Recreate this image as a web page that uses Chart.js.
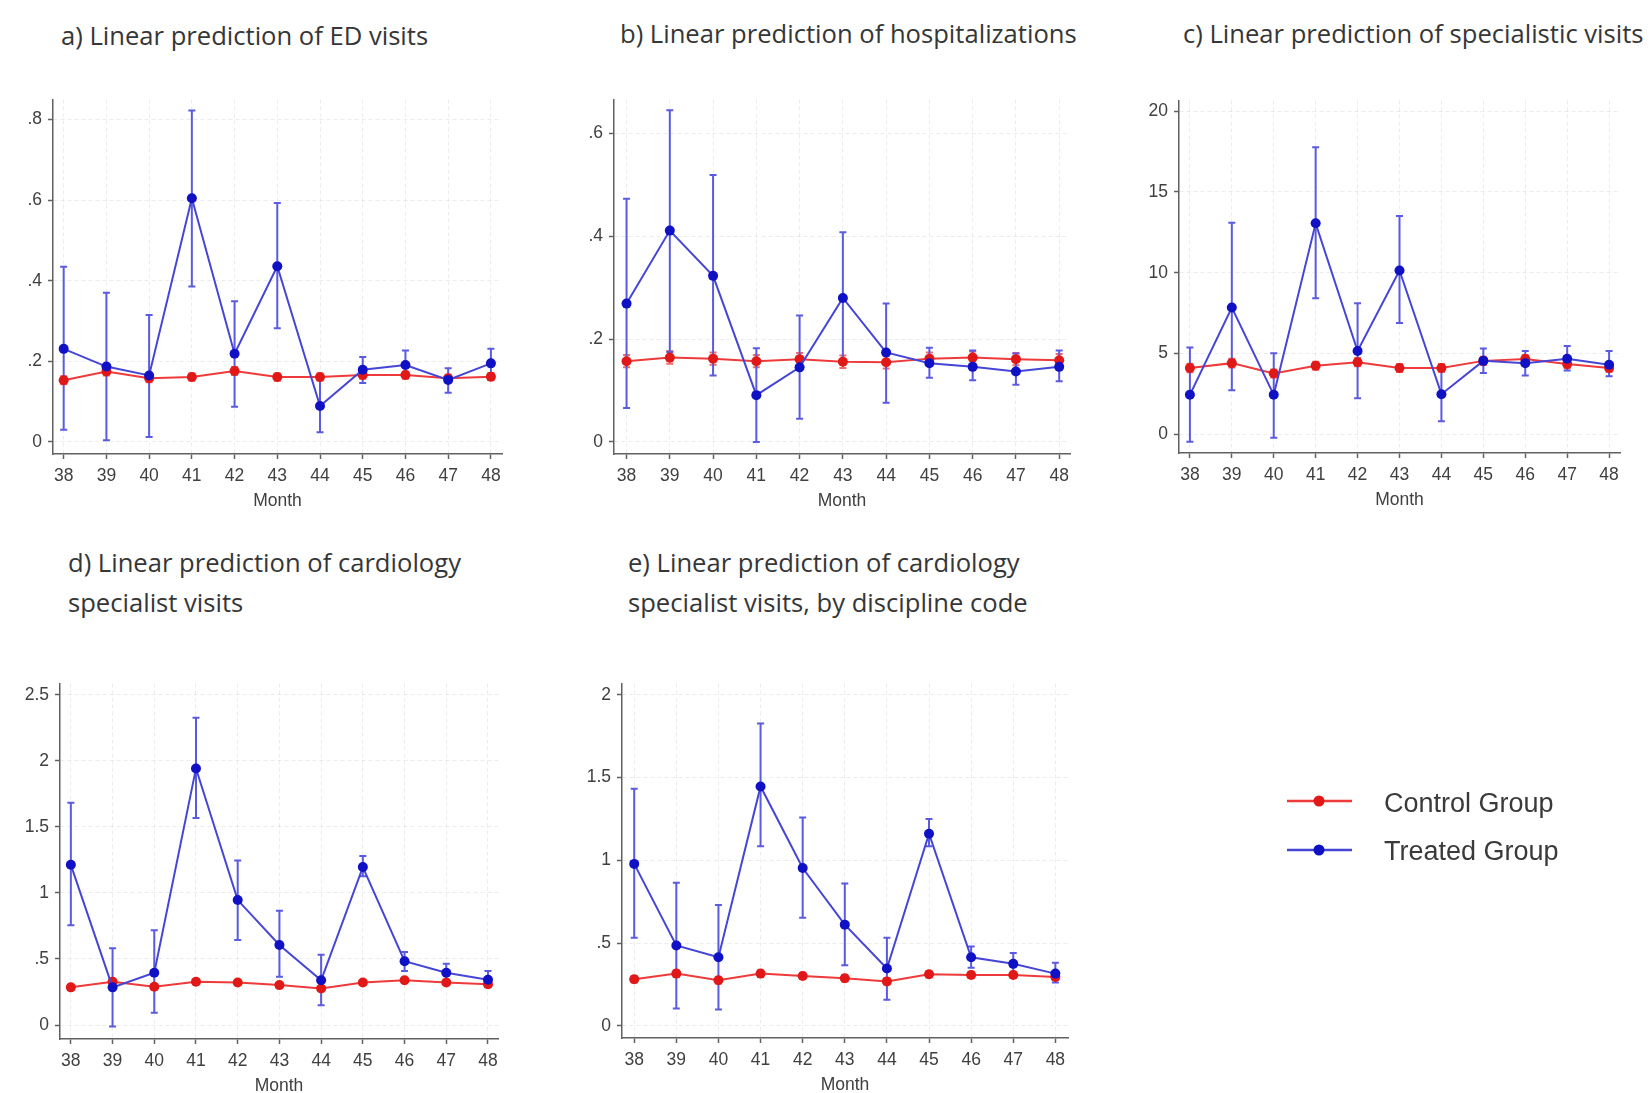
<!DOCTYPE html>
<html>
<head>
<meta charset="utf-8">
<script src="https://cdn.jsdelivr.net/npm/chart.js@4.4.1/dist/chart.umd.min.js"></script>
<style>
  html, body { margin:0; padding:0; background:#ffffff; }
  body { position:relative; width:1652px; height:1093px; overflow:hidden; }
  canvas { position:absolute; }
  .txt { position:absolute; white-space:nowrap; margin:0; padding:0; }
  .title { font-family: "Open Sans", Lato, sans-serif; color:#363636; font-size:25.6px; }
  .leg { font-family: "Liberation Sans", Arial, sans-serif; color:#3a3a3a; font-size:27px; }
  svg { position:absolute; left:0; top:0; }
</style>
</head>
<body>
<script>
// ---------------- DATA ----------------
const months = [38, 39, 40, 41, 42, 43, 44, 45, 46, 47, 48];
const monthLabels = ['38', '39', '40', '41', '42', '43', '44', '45', '46', '47', '48'];
const seriesNames = ['Control Group', 'Treated Group'];

// a) ED visits
const edTreated   = [0.231, 0.187, 0.165, 0.605, 0.219, 0.436, 0.089, 0.179, 0.191, 0.154, 0.195];
const edTreatedLo = [0.030, 0.004, 0.012, 0.386, 0.087, 0.282, 0.024, 0.146, 0.162, 0.122, 0.166];
const edTreatedHi = [0.435, 0.370, 0.315, 0.823, 0.349, 0.593, 0.155, 0.211, 0.227, 0.183, 0.231];
const edControl   = [0.153, 0.175, 0.158, 0.161, 0.176, 0.161, 0.161, 0.166, 0.166, 0.158, 0.162];
const edControlLo = [0.143, 0.165, 0.148, 0.152, 0.166, 0.152, 0.152, 0.157, 0.157, 0.149, 0.153];
const edControlHi = [0.163, 0.185, 0.168, 0.170, 0.186, 0.170, 0.170, 0.175, 0.175, 0.167, 0.171];
const edYTicks  = [0, 0.2, 0.4, 0.6, 0.8];
const edYLabels = ['0', '.2', '.4', '.6', '.8'];

// b) hospitalizations
const hospTreated   = [0.269, 0.411, 0.323, 0.091, 0.145, 0.280, 0.174, 0.153, 0.146, 0.137, 0.146];
const hospTreatedLo = [0.066, 0.175, 0.129, 0.000, 0.045, 0.159, 0.076, 0.125, 0.120, 0.111, 0.118];
const hospTreatedHi = [0.473, 0.645, 0.519, 0.182, 0.246, 0.408, 0.269, 0.183, 0.178, 0.172, 0.178];
const hospControl   = [0.157, 0.164, 0.162, 0.157, 0.161, 0.156, 0.155, 0.162, 0.164, 0.161, 0.159];
const hospControlLo = [0.145, 0.152, 0.150, 0.145, 0.149, 0.144, 0.143, 0.150, 0.152, 0.149, 0.147];
const hospControlHi = [0.169, 0.177, 0.174, 0.169, 0.173, 0.168, 0.167, 0.174, 0.176, 0.173, 0.171];
const hospYTicks  = [0, 0.2, 0.4, 0.6];
const hospYLabels = ['0', '.2', '.4', '.6'];

// c) specialistic visits
const specTreated   = [2.45, 7.85, 2.45, 13.06, 5.16, 10.14, 2.49, 4.55, 4.41, 4.68, 4.31];
const specTreatedLo = [-0.45, 2.73, -0.20, 8.42, 2.23, 6.90, 0.81, 3.80, 3.64, 3.95, 3.60];
const specTreatedHi = [5.38, 13.10, 5.02, 17.77, 8.12, 13.52, 4.10, 5.32, 5.16, 5.47, 5.16];
const specControl   = [4.11, 4.41, 3.77, 4.25, 4.47, 4.11, 4.11, 4.55, 4.66, 4.35, 4.11];
const specControlLo = [3.85, 4.14, 3.52, 4.00, 4.21, 3.86, 3.86, 4.30, 4.40, 4.10, 3.86];
const specControlHi = [4.37, 4.68, 4.02, 4.50, 4.73, 4.36, 4.36, 4.80, 4.92, 4.60, 4.36];
const specYTicks  = [0, 5, 10, 15, 20];
const specYLabels = ['0', '5', '10', '15', '20'];

// d) cardiology specialist visits
const cardTreated   = [1.213, 0.285, 0.396, 1.943, 0.946, 0.606, 0.339, 1.196, 0.483, 0.396, 0.342];
const cardTreatedLo = [0.755, -0.012, 0.092, 1.567, 0.644, 0.366, 0.149, 1.126, 0.408, 0.339, 0.285];
const cardTreatedHi = [1.683, 0.582, 0.718, 2.327, 1.245, 0.866, 0.532, 1.280, 0.552, 0.463, 0.408];
const cardControl   = [0.285, 0.327, 0.290, 0.327, 0.322, 0.302, 0.277, 0.322, 0.339, 0.322, 0.309];
const cardControlLo = [0.266, 0.307, 0.271, 0.308, 0.303, 0.283, 0.258, 0.303, 0.320, 0.303, 0.290];
const cardControlHi = [0.304, 0.347, 0.309, 0.346, 0.341, 0.321, 0.296, 0.341, 0.358, 0.341, 0.328];
const cardYTicks  = [0, 0.5, 1, 1.5, 2, 2.5];
const cardYLabels = ['0', '.5', '1', '1.5', '2', '2.5'];

// e) cardiology specialist visits, by discipline code
const discTreated   = [0.979, 0.486, 0.415, 1.447, 0.954, 0.612, 0.347, 1.161, 0.415, 0.375, 0.316];
const discTreatedLo = [0.533, 0.105, 0.099, 1.086, 0.654, 0.367, 0.158, 1.086, 0.351, 0.316, 0.263];
const discTreatedHi = [1.433, 0.865, 0.731, 1.828, 1.260, 0.861, 0.533, 1.250, 0.480, 0.440, 0.381];
const discControl   = [0.282, 0.316, 0.276, 0.316, 0.302, 0.288, 0.269, 0.312, 0.308, 0.308, 0.296];
const discControlLo = [0.263, 0.297, 0.257, 0.297, 0.283, 0.269, 0.250, 0.293, 0.289, 0.289, 0.277];
const discControlHi = [0.301, 0.335, 0.295, 0.335, 0.321, 0.307, 0.288, 0.331, 0.327, 0.327, 0.315];
const discYTicks  = [0, 0.5, 1, 1.5, 2];
const discYLabels = ['0', '.5', '1', '1.5', '2'];

const titles = {
  a: ['a) Linear prediction of ED visits'],
  b: ['b) Linear prediction of hospitalizations'],
  c: ['c) Linear prediction of specialistic visits'],
  d: ['d) Linear prediction of cardiology', 'specialist visits'],
  e: ['e) Linear prediction of cardiology', 'specialist visits, by discipline code']
};
const xAxisTitle = 'Month';

// ---------------- STYLE ----------------
const RED_LINE = '#ee3a3a', RED_MARK = '#e01818', RED_ERR = '#f26a6a';
const BLUE_LINE = '#4646d6', BLUE_MARK = '#1010c4', BLUE_ERR = '#5a5ae2';
const AXIS = '#606060', TICKTXT = '#404040', GRID = 'rgba(0,0,0,0.075)';
const TICKFONT = '"Liberation Sans", Arial, sans-serif';
const TICKSIZE = 17.5;

const errorBarPlugin = {
  id: 'errorBars',
  beforeDatasetsDraw(chart) {
    const ctx = chart.ctx, xs = chart.scales.x, ys = chart.scales.y;
    chart.data.datasets.forEach(ds => {
      if (!ds.errLo) return;
      ctx.save();
      ctx.strokeStyle = ds.errColor;
      ctx.lineWidth = 2;
      ds.data.forEach((pt, j) => {
        const px = xs.getPixelForValue(pt.x);
        const lo = ys.getPixelForValue(ds.errLo[j]);
        const hi = ys.getPixelForValue(ds.errHi[j]);
        ctx.beginPath();
        ctx.moveTo(px, lo); ctx.lineTo(px, hi);
        ctx.moveTo(px - 3.5, lo); ctx.lineTo(px + 3.5, lo);
        ctx.moveTo(px - 3.5, hi); ctx.lineTo(px + 3.5, hi);
        ctx.stroke();
      });
      ctx.restore();
    });
  }
};

const panels = [
  { key:'a', area:{l:53, t:93, r:502, b:454}, yMin:-0.03, yMax:0.85, xMin:37.75, xMax:48.26,
    treated:edTreated, tLo:edTreatedLo, tHi:edTreatedHi, control:edControl, cLo:edControlLo, cHi:edControlHi,
    yTicks:edYTicks, yLabels:edYLabels },
  { key:'b', area:{l:614, t:93, r:1070, b:454}, yMin:-0.0235, yMax:0.666, xMin:37.71, xMax:48.25,
    treated:hospTreated, tLo:hospTreatedLo, tHi:hospTreatedHi, control:hospControl, cLo:hospControlLo, cHi:hospControlHi,
    yTicks:hospYTicks, yLabels:hospYLabels },
  { key:'c', area:{l:1179, t:94, r:1620, b:453}, yMin:-1.15, yMax:20.66, xMin:37.74, xMax:48.26,
    treated:specTreated, tLo:specTreatedLo, tHi:specTreatedHi, control:specControl, cLo:specControlLo, cHi:specControlHi,
    yTicks:specYTicks, yLabels:specYLabels },
  { key:'d', area:{l:60, t:677, r:498, b:1039}, yMin:-0.106, yMax:2.586, xMin:37.74, xMax:48.24,
    treated:cardTreated, tLo:cardTreatedLo, tHi:cardTreatedHi, control:cardControl, cLo:cardControlLo, cHi:cardControlHi,
    yTicks:cardYTicks, yLabels:cardYLabels },
  { key:'e', area:{l:622, t:677, r:1068, b:1038}, yMin:-0.073, yMax:2.069, xMin:37.71, xMax:48.3,
    treated:discTreated, tLo:discTreatedLo, tHi:discTreatedHi, control:discControl, cLo:discControlLo, cHi:discControlHi,
    yTicks:discYTicks, yLabels:discYLabels }
];

function buildChart(p) {
  const yW = 50, padTop = 10, padRight = 8, xH = 62;
  const cv = document.createElement('canvas');
  const left = p.area.l - yW, top = p.area.t - padTop;
  const w = (p.area.r - p.area.l) + yW + padRight;
  const h = (p.area.b - p.area.t) + padTop + xH;
  cv.width = w; cv.height = h;
  cv.style.left = left + 'px'; cv.style.top = top + 'px';
  cv.style.width = w + 'px'; cv.style.height = h + 'px';
  document.body.appendChild(cv);
  const pts = arr => months.map((m, i) => ({ x: m, y: arr[i] }));
  const gridCommon = { color: GRID, lineWidth: 1, tickColor: AXIS, tickLength: 5, tickWidth: 1.5, tickBorderDash: [] };
  const borderCommon = { color: AXIS, width: 1.5, dash: [4, 3] };
  new Chart(cv, {
    type: 'line',
    data: { datasets: [
      { label: seriesNames[0], data: pts(p.control), errLo: p.cLo, errHi: p.cHi, errColor: RED_ERR,
        borderColor: RED_LINE, backgroundColor: RED_MARK, pointBackgroundColor: RED_MARK, pointBorderWidth: 0,
        pointRadius: 5, borderWidth: 2, tension: 0, order: 1 },
      { label: seriesNames[1], data: pts(p.treated), errLo: p.tLo, errHi: p.tHi, errColor: BLUE_ERR,
        borderColor: BLUE_LINE, backgroundColor: BLUE_MARK, pointBackgroundColor: BLUE_MARK, pointBorderWidth: 0,
        pointRadius: 5, borderWidth: 2, tension: 0, order: 0 }
    ] },
    options: {
      responsive: false, animation: false, devicePixelRatio: 1,
      layout: { padding: { top: padTop, right: padRight, left: 0, bottom: 0 } },
      plugins: { legend: { display: false }, tooltip: { enabled: false } },
      scales: {
        x: {
          type: 'linear', min: p.xMin, max: p.xMax,
          afterBuildTicks: s => { s.ticks = months.map(v => ({ value: v })); },
          afterFit: s => { s.height = xH; },
          ticks: { callback: (v, i) => monthLabels[i], font: { family: TICKFONT, size: TICKSIZE }, color: TICKTXT,
                   padding: 7, maxRotation: 0, autoSkip: false },
          grid: gridCommon, border: borderCommon,
          title: { display: true, text: xAxisTitle, font: { family: TICKFONT, size: TICKSIZE }, color: TICKTXT,
                   padding: { top: 0, bottom: 4 } }
        },
        y: {
          type: 'linear', min: p.yMin, max: p.yMax,
          afterBuildTicks: s => { s.ticks = p.yTicks.map(v => ({ value: v })); },
          afterFit: s => { s.width = yW; },
          ticks: { callback: (v, i) => p.yLabels[i], font: { family: TICKFONT, size: TICKSIZE }, color: TICKTXT,
                   padding: 6, autoSkip: false },
          grid: gridCommon, border: borderCommon
        }
      }
    },
    plugins: [errorBarPlugin]
  });
}

panels.forEach(buildChart);

// ---------------- TITLES (HTML text) ----------------
function placeText(text, cls, x, baseline) {
  const d = document.createElement('div');
  d.className = 'txt ' + cls;
  d.textContent = text;
  const probe = document.createElement('span');
  probe.style.display = 'inline-block'; probe.style.width = '0px'; probe.style.height = '0px';
  d.appendChild(probe);
  d.style.left = x + 'px'; d.style.top = '0px';
  document.body.appendChild(d);
  const off = probe.offsetTop;
  d.style.top = (baseline - off) + 'px';
  return d;
}
const titlePos = {
  a: [[61, 45]], b: [[620, 42.5]], c: [[1183, 43]],
  d: [[68, 572], [68, 611.5]], e: [[628, 571.5], [628, 611.5]]
};
Object.keys(titles).forEach(k => {
  titles[k].forEach((t, i) => placeText(t, 'title', titlePos[k][i][0], titlePos[k][i][1]));
});

// ---------------- LEGEND ----------------
const svgNS = 'http://www.w3.org/2000/svg';
const svg = document.createElementNS(svgNS, 'svg');
svg.setAttribute('width', '1652'); svg.setAttribute('height', '1093');
document.body.appendChild(svg);
[[801, RED_LINE, RED_MARK], [850, BLUE_LINE, BLUE_MARK]].forEach(([y, lc, mc]) => {
  const ln = document.createElementNS(svgNS, 'line');
  ln.setAttribute('x1', 1287); ln.setAttribute('x2', 1352); ln.setAttribute('y1', y); ln.setAttribute('y2', y);
  ln.setAttribute('stroke', lc); ln.setAttribute('stroke-width', 2.5);
  svg.appendChild(ln);
  const c = document.createElementNS(svgNS, 'circle');
  c.setAttribute('cx', 1319); c.setAttribute('cy', y); c.setAttribute('r', 5.5); c.setAttribute('fill', mc);
  svg.appendChild(c);
});
placeText(seriesNames[0], 'leg', 1384, 811.5);
placeText(seriesNames[1], 'leg', 1384, 860);
</script>
</body>
</html>
